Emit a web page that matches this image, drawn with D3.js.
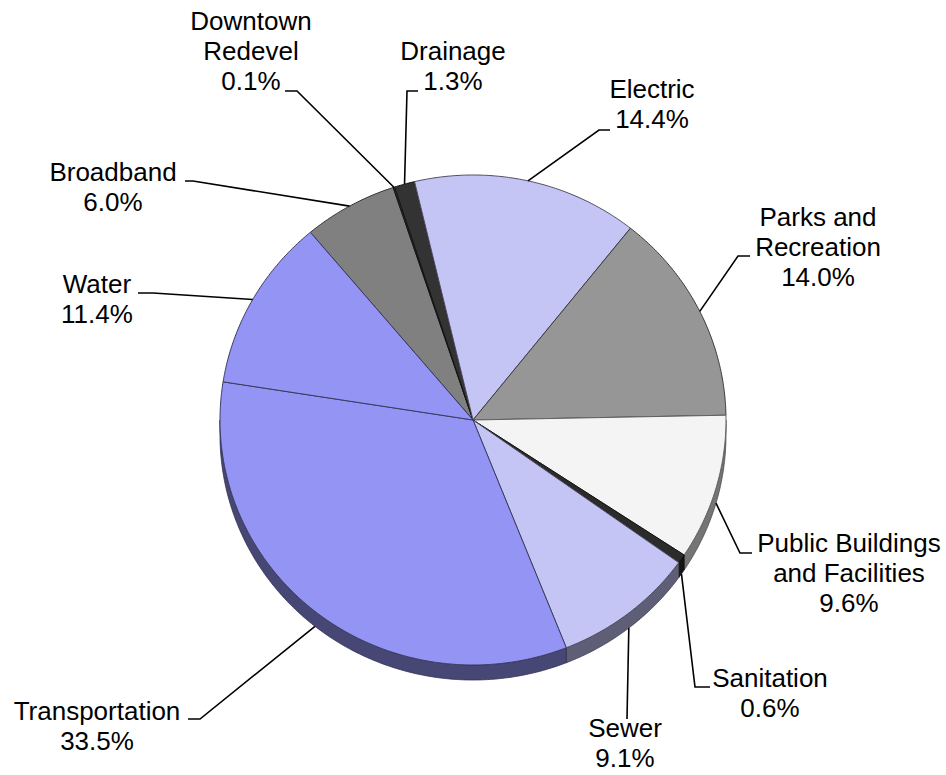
<!DOCTYPE html>
<html>
<head>
<meta charset="utf-8">
<script src="https://cdn.jsdelivr.net/npm/d3@7"></script>
<style>
  html, body { margin: 0; padding: 0; background: #fff; }
  svg { display: block; }
  text { font-family: "Liberation Sans", Arial, sans-serif; font-size: 26px; fill: #000; }
</style>
</head>
<body>
<svg id="chart" width="946" height="775"></svg>
<script>
// ---- data ----
const categories = ["Broadband", "Downtown Redevel", "Drainage", "Electric", "Parks and Recreation",
  "Public Buildings and Facilities", "Sanitation", "Sewer", "Transportation", "Water"];
const values = [6.0, 0.1, 1.3, 14.4, 14.0, 9.6, 0.6, 9.1, 33.5, 11.4];
const labelLines = [["Broadband"], ["Downtown", "Redevel"], ["Drainage"], ["Electric"], ["Parks and", "Recreation"],
  ["Public Buildings", "and Facilities"], ["Sanitation"], ["Sewer"], ["Transportation"], ["Water"]];

// ---- styles / layout ----
const fills = ["#808080", "#333333", "#333333", "#C4C4F5", "#969696", "#F4F4F4", "#2B2B2B", "#C4C4F5", "#9494F4", "#9494F4"];
const cx = 473, cy = 420, rx = 253, ry = 245, depth = 15;
// label anchor (center x, first baseline y) and leader tick [x1, x2, y]
const labelLayout = [
  {x: 113, y: 181, tick: [185, 193, 181]},
  {x: 251, y: 30, tick: [285, 297, 91]},
  {x: 453, y: 60, tick: [418, 407, 91]},
  {x: 652, y: 98, tick: [610, 599, 130]},
  {x: 818, y: 226, tick: [750, 738, 256]},
  {x: 849, y: 552, tick: [752, 740, 553]},
  {x: 770, y: 687, tick: [710, 695, 687]},
  {x: 625, y: 737, tick: [627, 627, 719]},
  {x: 97, y: 720, tick: [188, 200, 719]},
  {x: 97, y: 293, tick: [138, 153, 293]}
];
const lineH = 30;

const svg = d3.select("#chart");
const color = d3.scaleOrdinal().domain(categories).range(fills);
const xs = d3.scaleLinear().domain([-1, 1]).range([cx - rx, cx + rx]);
const ys = d3.scaleLinear().domain([-1, 1]).range([cy - ry, cy + ry]);

const start = -40 * Math.PI / 180;
const pie = d3.pie().sort(null).value(d => d.v).startAngle(start).endAngle(start + 2 * Math.PI);
const data = categories.map((c, i) => ({c, v: values[i], i}));
const arcs = pie(data);

const pt = (a, off = 0) => [xs(Math.sin(a)), ys(-Math.cos(a)) + off];
const line = d3.line();
function arcPts(a0, a1, off) {
  const n = Math.max(2, Math.ceil((a1 - a0) / (Math.PI / 360)));
  return d3.range(n + 1).map(k => pt(a0 + (a1 - a0) * k / n, off));
}

// sides (front half only)
const sideG = svg.append("g");
arcs.forEach(d => {
  const s0 = Math.max(d.startAngle, Math.PI / 2), s1 = Math.min(d.endAngle, 3 * Math.PI / 2);
  if (s1 <= s0) return;
  const pts = arcPts(s0, s1, 0).concat(arcPts(s0, s1, depth).reverse());
  const fc = d3.interpolateRgb(color(d.data.c), "#000")(0.52);
  sideG.append("path")
    .attr("d", line(pts) + "Z")
    .attr("fill", fc)
    .attr("stroke", d3.color(fc).darker(1.2))
    .attr("stroke-width", 0.8)
    .attr("stroke-linejoin", "round");
});

// top faces
const topG = svg.append("g");
arcs.forEach(d => {
  const pts = [[cx, cy]].concat(arcPts(d.startAngle, d.endAngle, 0));
  const f = color(d.data.c);
  topG.append("path")
    .attr("d", line(pts) + "Z")
    .attr("fill", f)
    .attr("stroke", d3.color(f).darker(2.6))
    .attr("stroke-width", 1)
    .attr("stroke-linejoin", "round");
});

// leaders and labels
const fmt = d3.format(".1f");
const labG = svg.append("g");
arcs.forEach((d, i) => {
  const L = labelLayout[i];
  const m = (d.startAngle + d.endAngle) / 2;
  const front = Math.cos(m) < 0;
  const p = pt(m, front ? depth : 0);
  const [t1, t2, ty] = L.tick;
  labG.append("path")
    .attr("d", line([[t1, ty], [t2, ty], p]))
    .attr("fill", "none")
    .attr("stroke", "#000")
    .attr("stroke-width", 1.6);
  const lines = labelLines[i].concat([fmt(d.data.v) + "%"]);
  const t = labG.append("text").attr("text-anchor", "middle");
  lines.forEach((s, k) => {
    t.append("tspan").attr("x", L.x).attr("y", L.y + k * lineH).text(s);
  });
});
</script>
</body>
</html>
